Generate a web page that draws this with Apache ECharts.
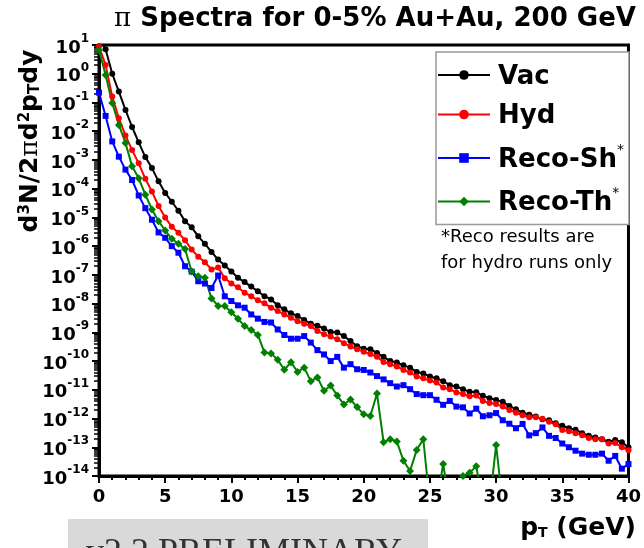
<!DOCTYPE html>
<html><head><meta charset="utf-8">
<script src="https://cdn.jsdelivr.net/npm/echarts@6/dist/echarts.min.js"></script>
<style>html,body{margin:0;padding:0;background:#fff}#c{width:644px;height:548px}</style>
</head><body><div id="c"></div>
<script>
// pT values (GeV)
const pT = [0,0.5,1,1.5,2,2.5,3,3.5,4,4.5,5,5.5,6,6.5,7,7.5,8,8.5,9,9.5,10,10.5,11,11.5,12,12.5,13,13.5,14,14.5,15,15.5,16,16.5,17,17.5,18,18.5,19,19.5,20,20.5,21,21.5,22,22.5,23,23.5,24,24.5,25,25.5,26,26.5,27,27.5,28,28.5,29,29.5,30,30.5,31,31.5,32,32.5,33,33.5,34,34.5,35,35.5,36,36.5,37,37.5,38,38.5,39,39.5,40];
const vac = [16,7.1,1.0,0.24,5.5e-2,1.4e-2,4.1e-3,1.26e-3,5.2e-4,1.8e-4,7.1e-5,3.5e-5,1.7e-5,7.4e-6,4.5e-6,2.2e-6,1.2e-6,6.3e-7,3.4e-7,2.1e-7,1.3e-7,7.9e-8,5.6e-8,3.9e-8,2.7e-8,1.8e-8,1.4e-8,8.7e-9,6.3e-9,4.6e-9,3.7e-9,2.7e-9,2.0e-9,1.7e-9,1.35e-9,1.02e-9,9.8e-10,7.4e-10,5.0e-10,3.3e-10,2.7e-10,2.6e-10,1.9e-10,1.4e-10,1.0e-10,8.9e-11,7.1e-11,5.9e-11,4.2e-11,3.7e-11,2.9e-11,2.5e-11,2.0e-11,1.45e-11,1.3e-11,1.05e-11,8.5e-12,8.3e-12,6.2e-12,5.1e-12,4.4e-12,3.8e-12,2.75e-12,2.1e-12,1.6e-12,1.35e-12,1.17e-12,9.5e-13,8.7e-13,6.8e-13,5.6e-13,4.6e-13,4.1e-13,3.1e-13,2.5e-13,2.2e-13,1.9e-13,1.55e-13,1.8e-13,1.5e-13,1.0e-13];
const hyd = [9,2.0,0.16,2.8e-2,7.1e-3,2.2e-3,7.6e-4,2.2e-4,7.9e-5,2.5e-5,1.0e-5,4.7e-6,2.9e-6,1.6e-6,7.6e-7,4.3e-7,2.75e-7,1.55e-7,1.8e-7,7.6e-8,5.0e-8,3.7e-8,2.4e-8,1.8e-8,1.3e-8,1.02e-8,7.2e-9,5.5e-9,4.2e-9,3.2e-9,2.45e-9,2.0e-9,1.65e-9,1.12e-9,8.5e-10,7.1e-10,5.8e-10,4.2e-10,3.2e-10,2.6e-10,2.1e-10,1.75e-10,1.4e-10,9.3e-11,7.8e-11,6.5e-11,4.9e-11,4.0e-11,2.9e-11,2.5e-11,2.1e-11,1.8e-11,1.2e-11,1.05e-11,8.1e-12,7.1e-12,6.0e-12,6.3e-12,4.1e-12,3.5e-12,3.2e-12,2.6e-12,2.0e-12,1.6e-12,1.3e-12,1.1e-12,1.1e-12,9.8e-13,7.8e-13,6.3e-13,4.0e-13,3.6e-13,3.1e-13,2.6e-13,2.1e-13,1.9e-13,1.9e-13,1.35e-13,1.4e-13,1.0e-13,7.9e-14];
const recoSh = [0.22,3.4e-2,4.4e-3,1.3e-3,4.6e-4,2.0e-4,5.8e-5,2.1e-5,8.3e-6,3.0e-6,1.95e-6,1.0e-6,5.9e-7,2.0e-7,1.3e-7,6.0e-8,5.0e-8,3.5e-8,9.5e-8,1.8e-8,1.23e-8,8.7e-9,7.2e-9,4.2e-9,3.0e-9,2.3e-9,2.2e-9,1.26e-9,8.1e-10,6.0e-10,6.0e-10,7.4e-10,4.4e-10,2.4e-10,1.7e-10,1.0e-10,1.4e-10,5.9e-11,7.8e-11,5.2e-11,4.9e-11,4.0e-11,3.0e-11,2.3e-11,1.7e-11,1.3e-11,1.45e-11,1.05e-11,7.1e-12,6.5e-12,6.5e-12,4.5e-12,3.0e-12,4.1e-12,2.6e-12,2.45e-12,1.5e-12,2.2e-12,1.2e-12,1.3e-12,1.55e-12,8.7e-13,6.6e-13,4.6e-13,6.5e-13,2.6e-13,3.1e-13,4.9e-13,2.5e-13,2.1e-13,1.35e-13,1.0e-13,7.6e-14,6.0e-14,5.5e-14,5.5e-14,6.0e-14,3.4e-14,5.0e-14,1.8e-14,2.6e-14];
const recoTh = [6.7,0.9,9.6e-2,1.65e-2,3.9e-3,6.0e-4,2.3e-4,6.2e-5,1.9e-5,7.4e-6,3.5e-6,1.8e-6,1.2e-6,8.0e-7,1.3e-7,8.9e-8,7.9e-8,1.5e-8,8.3e-9,8.3e-9,5.0e-9,2.95e-9,1.65e-9,1.2e-9,8.1e-10,2.0e-10,1.85e-10,1.12e-10,5.0e-11,9.1e-11,4.2e-11,5.9e-11,2.0e-11,2.7e-11,9.3e-12,1.4e-11,6.3e-12,3.1e-12,4.6e-12,2.5e-12,1.4e-12,1.23e-12,7.4e-12,1.5e-13,1.9e-13,1.6e-13,3.4e-14,1.5e-14,8.1e-14,1.9e-13,1e-15,1e-15,2.6e-14,1e-15,1e-15,1.0e-14,1.3e-14,2.2e-14,1e-15,1e-15,1.2e-13,1e-15,null,null,null,null,null,null,null,null,null,null,null,null,null,null,null,null,null,null,null];
const seriesNames = ['Vac','Hyd','Reco-Sh','Reco-Th'];
const seriesColors = ['#000000','#ff0000','#0000ff','#008000'];
const seriesSymbols = ['circle','circle','rect','diamond'];
const seriesData = [vac, hyd, recoSh, recoTh];
const xTickStep = 5;

const FONT = 'DejaVu Sans';
const chart = echarts.init(document.getElementById('c'), null, {renderer: 'canvas'});

const series = seriesNames.map((n, i) => ({
  name: n,
  type: 'line',
  data: pT.map((x, k) => [x, seriesData[i][k]]),
  symbol: seriesSymbols[i],
  symbolSize: seriesSymbols[i] === 'diamond' ? 8 : 6,
  showAllSymbol: true,
  clip: true,
  lineStyle: {color: seriesColors[i], width: 2},
  itemStyle: {color: seriesColors[i]},
  emphasis: {disabled: true},
  animation: false
}));

chart.setOption({
  animation: false,
  backgroundColor: '#fff',
  title: {
    text: '{pi|π} Spectra for 0-5% Au+Au, 200 GeV',
    left: 370, top: 1, textAlign: 'center',
    textStyle: {
      fontFamily: FONT, fontWeight: 'bold', fontSize: 26, color: '#000',
      rich: {pi: {fontFamily: 'DejaVu Serif', fontSize: 26, fontWeight: 'normal', color: '#000'}}
    }
  },
  grid: {left: 99, right: 10, top: 45, bottom: 72, show: true, borderColor: '#000', borderWidth: 3, containLabel: false},
  xAxis: {
    type: 'value', min: 0, max: 40, interval: xTickStep,
    axisLine: {lineStyle: {color: '#000', width: 3}},
    axisTick: {show: true, inside: false, length: 7, lineStyle: {color: '#000', width: 2}},
    minorTick: {show: true, splitNumber: 5, length: 4, lineStyle: {color: '#000', width: 2}},
    splitLine: {show: false},
    axisLabel: {margin: 12, color: '#000', fontFamily: FONT, fontWeight: 'bold', fontSize: 18}
  },
  yAxis: {
    type: 'log', logBase: 10, min: 1e-14, max: 10, interval: 1,
    axisLine: {lineStyle: {color: '#000', width: 3}},
    axisTick: {show: true, inside: false, length: 7, lineStyle: {color: '#000', width: 2}},
    minorTick: {show: true, splitNumber: 9, length: 5, lineStyle: {color: '#000', width: 1.5}},
    splitLine: {show: false},
    axisLabel: {
      margin: 10, color: '#000',
      formatter: v => '{b|10}{s|' + Math.round(Math.log10(v)) + '}',
      rich: {
        b: {fontFamily: FONT, fontWeight: 'bold', fontSize: 18, color: '#000', verticalAlign: 'bottom', lineHeight: 24},
        s: {fontFamily: FONT, fontWeight: 'bold', fontSize: 12, color: '#000', verticalAlign: 'top', lineHeight: 12}
      }
    }
  },
  legend: {
    orient: 'vertical', left: 436, top: 52,
    selectedMode: false,
    borderColor: '#999', borderWidth: 1.5, backgroundColor: '#fff',
    padding: [12, 5, 8, 1],
    itemWidth: 52, itemHeight: 12, itemGap: 13.5,
    formatter: n => n.startsWith('Reco') ? '{n|' + n + '}{s|*}' : '{n|' + n + '}',
    textStyle: {
      color: '#000',
      rich: {
        n: {fontFamily: FONT, fontWeight: 'bold', fontSize: 26, color: '#000', lineHeight: 30, verticalAlign: 'bottom', padding: [0, 0, 0, 3]},
        s: {fontFamily: FONT, fontSize: 14, color: '#000', lineHeight: 14, verticalAlign: 'top'}
      }
    },
    data: seriesNames
  },
  graphic: [
    {type: 'text', left: 441, top: 228, style: {text: '*Reco results are', fontFamily: FONT, fontSize: 18, fill: '#000'}},
    {type: 'text', left: 441, top: 254, style: {text: 'for hydro runs only', fontFamily: FONT, fontSize: 18, fill: '#000'}},
    {type: 'text', x: 30, y: 141, rotation: Math.PI / 2,
      style: {
        text: 'd{s|3}N/2{pi|π}d{s|2}p{sub|T}dy', align: 'center', verticalAlign: 'middle',
        fontFamily: FONT, fontWeight: 'bold', fontSize: 25, fill: '#000',
        rich: {
          s: {fontFamily: FONT, fontWeight: 'bold', fontSize: 15, verticalAlign: 'top', lineHeight: 12},
          sub: {fontFamily: FONT, fontWeight: 'bold', fontSize: 15, verticalAlign: 'bottom', lineHeight: 12},
          pi: {fontFamily: 'DejaVu Serif', fontSize: 25, fontWeight: 'normal'}
        }
      }},
    {type: 'text', x: 636, y: 528,
      style: {
        text: 'p{sub|T} (GeV)', align: 'right', verticalAlign: 'middle',
        fontFamily: FONT, fontWeight: 'bold', fontSize: 25, fill: '#000',
        rich: {sub: {fontFamily: FONT, fontWeight: 'bold', fontSize: 14, verticalAlign: 'bottom', lineHeight: 12}}
      }},
    {type: 'rect', shape: {x: 68, y: 519, width: 360, height: 30}, style: {fill: '#d9d9d9'}},
    {type: 'text', x: 86, y: 536, style: {text: 'v2.2 PRELIMINARY', fontFamily: 'Liberation Serif', fontSize: 36, fill: '#333'}}
  ],
  series: series
});
</script></body></html>
